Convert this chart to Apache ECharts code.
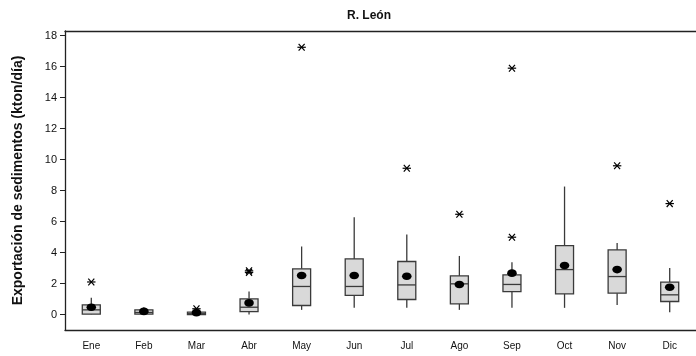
<!DOCTYPE html>
<html>
<head>
<meta charset="utf-8">
<script src="https://cdn.jsdelivr.net/npm/echarts@6/dist/echarts.min.js"></script>
<style>
  html, body { margin: 0; padding: 0; background: #fff; }
  #chart { width: 696px; height: 356px; }
</style>
</head>
<body>
<div id="chart"></div>
<script>
// Monthly sediment export, R. León (kton/día)
const months = ['Ene', 'Feb', 'Mar', 'Abr', 'May', 'Jun', 'Jul', 'Ago', 'Sep', 'Oct', 'Nov', 'Dic'];
const whiskerLow  = [0.00, 0.00, 0.00, 0.00, 0.30, 0.43, 0.43, 0.30, 0.43, 0.43, 0.62, 0.15];
const quartile1   = [0.02, 0.02, 0.00, 0.19, 0.58, 1.23, 0.97, 0.69, 1.48, 1.33, 1.38, 0.84];
const medians     = [0.30, 0.13, 0.05, 0.47, 1.81, 1.81, 1.91, 1.98, 1.94, 2.90, 2.45, 1.27];
const quartile3   = [0.62, 0.30, 0.15, 1.01, 2.95, 3.59, 3.42, 2.49, 2.56, 4.45, 4.17, 2.09];
const whiskerHigh = [1.08, 0.47, 0.35, 1.48, 4.39, 6.28, 5.16, 3.78, 3.38, 8.26, 4.62, 3.01];
const means       = [0.47, 0.20, 0.12, 0.75, 2.52, 2.52, 2.47, 1.94, 2.67, 3.16, 2.90, 1.76];
// outliers: [month index, value]
const outliers = [
  [0, 2.10], [2, 0.37], [3, 2.72], [3, 2.82], [4, 17.25],
  [6, 9.44], [7, 6.47], [8, 15.9], [8, 4.99], [10, 9.60], [11, 7.16]
];
const yTicks = [0, 2, 4, 6, 8, 10, 12, 14, 16, 18];

const boxData = months.map((m, i) => [i, whiskerLow[i], quartile1[i], medians[i], quartile3[i], whiskerHigh[i]]);
const meanData = months.map((m, i) => [i, means[i]]);

const ink = '#3a3a3a';
const chart = echarts.init(document.getElementById('chart'), null, { renderer: 'canvas' });

chart.setOption({
  animation: false,
  backgroundColor: '#fff',
  textStyle: { fontFamily: 'Liberation Sans, Arial, sans-serif' },
  title: {
    text: 'R. León',
    left: 364,
    top: 5,
    textAlign: 'center',
    textStyle: { fontSize: 12, fontWeight: 'bold', color: '#111', fontFamily: 'Liberation Sans, Arial, sans-serif' }
  },
  grid: { left: 65, top: 31, right: -9, bottom: 26, containLabel: false },
  xAxis: [{
    type: 'category',
    data: months,
    boundaryGap: true,
    axisLine: { onZero: false, lineStyle: { color: '#222', width: 1.3 } },
    axisTick: { alignWithLabel: true, length: 4, lineStyle: { color: '#222', width: 1 } },
    axisLabel: { color: '#111', fontSize: 10, margin: 11 },
    splitLine: { show: false }
  }, {
    type: 'category',
    data: months,
    position: 'top',
    boundaryGap: true,
    axisLine: { onZero: false, lineStyle: { color: '#222', width: 1.3 } },
    axisTick: { show: false },
    axisLabel: { show: false },
    splitLine: { show: false }
  }],
  yAxis: {
    type: 'value',
    min: -1.0,
    max: 18.3,
    name: 'Exportación de sedimentos (kton/día)',
    nameLocation: 'middle',
    nameGap: 40,
    nameRotate: 90,
    nameTextStyle: { fontSize: 14, fontWeight: 'bold', color: '#111' },
    axisLine: { show: true, onZero: false, lineStyle: { color: '#222', width: 1.3 } },
    axisTick: { show: true, length: 5, customValues: yTicks, lineStyle: { color: '#222', width: 1 } },
    axisLabel: { color: '#111', fontSize: 11, margin: 8, customValues: yTicks },
    splitLine: { show: false }
  },
  series: [{
    type: 'custom',
    name: 'box',
    data: boxData,
    encode: { x: 0, y: [1, 2, 3, 4, 5] },
    renderItem: function (params, api) {
      const idx = api.value(0);
      const cx = api.coord([idx, 0])[0];
      const yv = k => api.coord([idx, api.value(k)])[1];
      const yLo = yv(1), yQ1 = yv(2), yMed = yv(3), yQ3 = yv(4), yHi = yv(5);
      const half = 9;
      const stroke = { stroke: ink, lineWidth: 1.3 };
      return {
        type: 'group',
        children: [
          { type: 'line', shape: { x1: cx, y1: yLo, x2: cx, y2: yQ1 }, style: stroke },
          { type: 'line', shape: { x1: cx, y1: yQ3, x2: cx, y2: yHi }, style: stroke },
          { type: 'rect', shape: { x: cx - half, y: yQ3, width: half * 2, height: Math.max(yQ1 - yQ3, 1) },
            style: { fill: '#d9d9d9', stroke: ink, lineWidth: 1.3 } },
          { type: 'line', shape: { x1: cx - half, y1: yMed, x2: cx + half, y2: yMed }, style: stroke }
        ]
      };
    },
    z: 2
  }, {
    type: 'custom',
    name: 'mean',
    data: meanData,
    encode: { x: 0, y: 1 },
    renderItem: function (params, api) {
      const p = api.coord([api.value(0), api.value(1)]);
      return {
        type: 'ellipse',
        shape: { cx: p[0], cy: p[1], rx: 4.8, ry: 3.8 },
        style: { fill: '#000' }
      };
    },
    z: 3
  }, {
    type: 'custom',
    name: 'outlier',
    data: outliers,
    encode: { x: 0, y: 1 },
    renderItem: function (params, api) {
      const p = api.coord([api.value(0), api.value(1)]);
      const w = 4.2, h = 3.4;
      const st = { stroke: '#000', lineWidth: 1.2 };
      return {
        type: 'group',
        children: [
          { type: 'line', shape: { x1: p[0] - w, y1: p[1], x2: p[0] + w, y2: p[1] }, style: st },
          { type: 'line', shape: { x1: p[0] - 3, y1: p[1] - h, x2: p[0] + 3, y2: p[1] + h }, style: st },
          { type: 'line', shape: { x1: p[0] - 3, y1: p[1] + h, x2: p[0] + 3, y2: p[1] - h }, style: st }
        ]
      };
    },
    z: 4
  }]
});
</script>
</body>
</html>
